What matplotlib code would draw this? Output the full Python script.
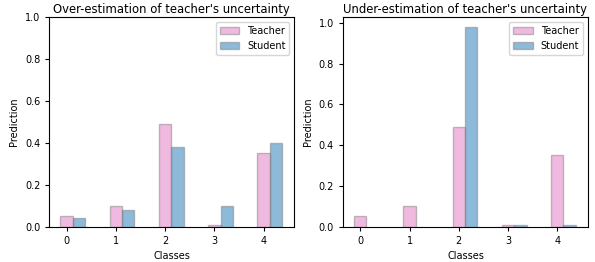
import numpy as np
import matplotlib
matplotlib.use("Agg")
import matplotlib.pyplot as plt

classes = [0, 1, 2, 3, 4]
teacher = [0.05, 0.10, 0.49, 0.01, 0.35]
student_over = [0.04, 0.08, 0.38, 0.10, 0.40]
student_under = [0.0, 0.0, 0.98, 0.01, 0.01]
titles = ["Over-estimation of teacher's uncertainty",
          "Under-estimation of teacher's uncertainty"]

fig, axes = plt.subplots(1, 2, figsize=(5.95, 2.62), dpi=100)
x = np.array(classes)
width = 0.25

for ax, student, title in zip(axes, [student_over, student_under], titles):
    ax.bar(x, teacher, width, color='tab:pink', alpha=0.5, edgecolor='grey', label='Teacher')
    # skip zero-height bars so no edge line shows at the baseline
    s = np.array(student)
    keep = s > 0
    ax.bar((x + width)[keep], s[keep], width, color='tab:blue', alpha=0.5,
           edgecolor='grey', label='Student')
    ax.set_xticks(x)
    ax.set_xlim(-0.35, 4.62)
    ax.set_xlabel('Classes', fontsize=7)
    ax.set_ylabel('Prediction', fontsize=7)
    ax.set_title(title, fontsize=8.4, pad=3)
    ax.tick_params(labelsize=7, length=3)
    ax.legend(fontsize=7, loc='upper right')

axes[0].set_ylim(0, 1)
axes[1].set_ylim(0, 0.98 * 1.05)

fig.subplots_adjust(left=0.083, right=0.988, top=0.935, bottom=0.135, wspace=0.2)
fig.savefig('out.png', dpi=100)
